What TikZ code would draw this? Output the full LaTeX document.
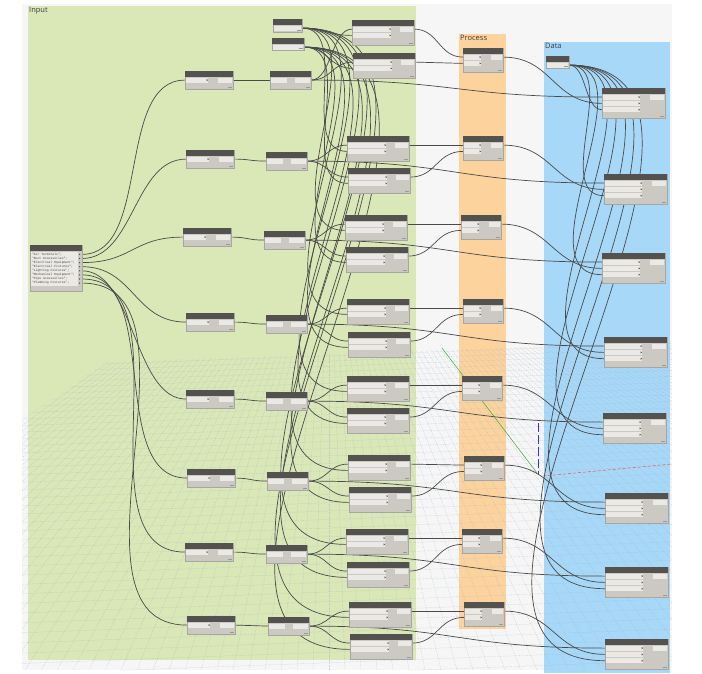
\documentclass[tikz,border=0pt]{standalone}
\usepackage{fontspec}
\setsansfont{Open Sans}
\setmonofont{Liberation Mono}
\usetikzlibrary{calc}
\pgfdeclarelayer{bg}
\pgfdeclarelayer{wires}
\pgfsetlayers{bg,wires,main}
\definecolor{wirec}{HTML}{4A4A4A}
\definecolor{nborder}{HTML}{A8A6A2}
\definecolor{nbodyc}{HTML}{CCC9C3}
\definecolor{headc}{HTML}{54524F}
\definecolor{fieldc}{HTML}{EBE9E5}
\definecolor{markc}{HTML}{555555}
\definecolor{tagc}{HTML}{9A9894}
\definecolor{canvasc}{HTML}{F6F6F6}
\definecolor{inputc}{HTML}{DAE7B7}
\definecolor{procc}{HTML}{FCD29D}
\definecolor{datac}{HTML}{A7D8F8}
\definecolor{gridc}{HTML}{9FB6C8}
\definecolor{labelc}{HTML}{3C3C3C}
\tikzset{
  wire/.style={draw=wirec, line width=0.7pt},
  nbody/.style={draw=nborder, fill=nbodyc, line width=0.3pt, inner sep=0pt, outer sep=0pt, rectangle},
  grouplabel/.style={anchor=north west, inner sep=0pt, font=\sffamily\fontsize{7.5}{8.5}\selectfont, text=labelc},
  gridline/.style={draw=gridc, line width=0.3pt, dash pattern=on 1.6pt off 1pt, opacity=0.55},
}
% name, x, y, w, h, #inputs, input field width, output field width, marker
\newcommand\dnode[9]{%
  \node[nbody, anchor=north west, minimum width=#4pt, minimum height=#5pt] (#1) at (#2,#3) {};
  \fill[headc] (#2,#3) rectangle ({#2+#4},{#3+6});
  \foreach \k in {1,...,#6}{%
    \fill[fieldc] ({#2+0.8},{#3+6.6+(\k-1)*6.3}) rectangle ({#2+0.8+#7},{#3+11.6+(\k-1)*6.3});
    \coordinate (#1-i\k) at (#2,{#3+9.1+(\k-1)*6.3});
    \ifnum#9=1 \fill[markc] ({#2+#7-0.4},{#3+8.0+(\k-1)*6.3}) -- ++(1.5,1.1) -- ++(-1.5,1.1) -- cycle;\fi
  }
  \fill[fieldc] ({#2+#4-0.8-#8},{#3+6.6}) rectangle ({#2+#4-0.8},{#3+11.6});
  \coordinate (#1-o) at ({#2+#4},{#3+9.1});
  \draw[tagc, line width=0.3pt] ({#2+#4-5},{#3+#5-1.8}) -- ({#2+#4-1.5},{#3+#5-1.8});
}
\newcommand\wire[2]{%
  \draw[wire] let \p1=(#1), \p2=(#2),
    \n1={max(0.5*abs(\x2-\x1),0.4*abs(\y2-\y1))} in
    (\p1) .. controls +(\n1,0) and +(-\n1,0) .. (\p2);
}
\begin{document}
\begin{tikzpicture}[x=1pt,y=-1pt]
\useasboundingbox (0,0) rectangle (702,674);
\begin{pgfonlayer}{bg}
  \fill[white] (0,0) rectangle (702,674);
  \fill[canvasc] (22,4) rectangle (672,670);
  \fill[inputc] (28,6) rectangle (416,660);
  \fill[procc] (459,34) rectangle (506,629);
  \fill[datac] (544,42) rectangle (670,673);
  \begin{scope}
    \clip (22,420) -- (105,362) -- (672,342) -- (672,670) -- (22,670) -- cycle;
    \foreach \i in {0,...,48}{
      \draw[gridline] (22,{362+5*\i+0.07*\i*\i}) -- (672,{338+5*\i+0.07*\i*\i});
    }
    \foreach \j in {-80,...,80}{
      \draw[gridline] (329,200) -- ({329+16*\j},670);
    }
  \end{scope}
  \draw[green!60!black!80, line width=0.5pt] (442,348) -- (537,473);
  \draw[blue!80, line width=0.8pt, dash pattern=on 9pt off 3pt] (538,423) -- (538,475);
  \draw[red!70, line width=0.5pt, dash pattern=on 3pt off 2pt] (543,476) -- (672,464);
  \node[grouplabel] (lblinput) at (29,6.5) {Input};
  \node[grouplabel] (lblproc) at (460,34.5) {Process};
  \node[grouplabel] (lbldata) at (545,42.5) {Data};
\end{pgfonlayer}

% code block
\node[nbody, anchor=north west, minimum width=52pt, minimum height=46pt] (code) at (30,245) {};
\fill[headc] (30,245) rectangle (82,251);
\fill[fieldc] (31,252) rectangle (78,286);
\node[anchor=north west, inner sep=0pt, align=left, font=\ttfamily\fontsize{3.1}{4.1}\selectfont, text=black!75] (codetext) at (31.8,252.6)
  {"Air Terminals";\\"Duct Accessories";\\"Electrical Equipment";\\"Electrical Fixtures";\\"Lighting Fixtures";\\"Mechanical Equipment";\\"Pipe Accessories";\\"Plumbing Fixtures";};
\foreach \k in {1,...,8}{
  \coordinate (code-o\k) at (82,{254.4+(\k-1)*4.1});
  \fill[markc] (79,{253.6+(\k-1)*4.1}) -- ++(1.4,0.8) -- ++(-1.4,0.8) -- cycle;
}

% small nodes
\dnode{sa}{273}{19}{29}{13}{1}{22}{5}{0}
\dnode{sb}{272}{38}{32}{12}{1}{25}{5}{0}
\dnode{ds}{546}{56}{23}{12}{1}{16}{5}{0}

% columns
\foreach \r/\x/\y in {1/185/71,2/186/150,3/183/228,4/186/313,5/186/390,6/187/469,7/185/543,8/187/616}{
  \dnode{fa\r}{\x}{\y}{48}{18}{1}{22}{14}{1}
}
\foreach \r/\x/\y in {1/270/71,2/266/152,3/264/231,4/266/315,5/266/392,6/267/472,7/266/545,8/268/617}{
  \dnode{fb\r}{\x}{\y}{41}{18}{1}{16}{15}{0}
}
\foreach \r/\x/\y in {1/352/20,2/347/136,3/345/215,4/347/299,5/347/376,6/348/455,7/346/529,8/349/602}{
  \dnode{ga\r}{\x}{\y}{62}{25}{2}{38}{13}{1}
}
\foreach \r/\x/\y in {1/353/53,2/348/168,3/346/247,4/348/332,5/347/408,6/349/487,7/347/562,8/350/634}{
  \dnode{gb\r}{\x}{\y}{62}{25}{2}{38}{13}{1}
}
\foreach \r/\x/\y in {1/463/48,2/463/136,3/461/215,4/463/299,5/462/376,6/464/456,7/462/529,8/464/602}{
  \dnode{pr\r}{\x}{\y}{40}{24}{2}{17}{11}{1}
}
\foreach \r/\x/\y in {1/602/88,2/604/174,3/602/253,4/604/337,5/603/413,6/605/493,7/605/567,8/605/639}{
  \dnode{dt\r}{\x}{\y}{63}{30}{3}{37}{14}{1}
}

\begin{pgfonlayer}{wires}
\foreach \r in {1,...,8}{
  \wire{code-o\r}{fa\r-i1}
  \wire{fa\r-o}{fb\r-i1}
  \wire{fb\r-o}{ga\r-i1}
  \wire{fb\r-o}{gb\r-i1}
  \wire{fb\r-o}{dt\r-i1}
  \wire{sa-o}{ga\r-i2}
  \wire{sb-o}{gb\r-i2}
  \wire{ga\r-o}{pr\r-i1}
  \wire{gb\r-o}{pr\r-i2}
  \wire{pr\r-o}{dt\r-i2}
  \wire{ds-o}{dt\r-i3}
}
\end{pgfonlayer}
\end{tikzpicture}
\end{document}
